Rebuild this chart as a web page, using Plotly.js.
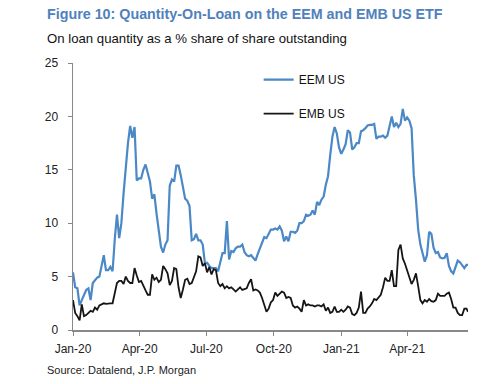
<!DOCTYPE html>
<html><head><meta charset="utf-8">
<script src="https://cdn.plot.ly/plotly-3.0.1.min.js"></script>
<style>html,body{margin:0;padding:0;background:#fff;}#chart{width:500px;height:384px;}</style>
</head><body><div id="chart"></div>
<script>
const dates = [
"2020-01-01","2020-01-04","2020-01-07","2020-01-10","2020-01-13","2020-01-16","2020-01-19","2020-01-22","2020-01-25","2020-01-28",
"2020-01-31","2020-02-03","2020-02-06","2020-02-09","2020-02-12","2020-02-15","2020-02-18","2020-02-21","2020-02-24","2020-02-27",
"2020-03-01","2020-03-04","2020-03-07","2020-03-10","2020-03-13","2020-03-16","2020-03-19","2020-03-22","2020-03-25","2020-03-28",
"2020-03-31","2020-04-03","2020-04-06","2020-04-09","2020-04-12","2020-04-15","2020-04-18","2020-04-21","2020-04-24","2020-04-27",
"2020-04-30","2020-05-03","2020-05-06","2020-05-09","2020-05-12","2020-05-15","2020-05-18","2020-05-21","2020-05-24","2020-05-27",
"2020-05-30","2020-06-02","2020-06-05","2020-06-08","2020-06-11","2020-06-14","2020-06-17","2020-06-20","2020-06-23","2020-06-26",
"2020-06-29","2020-07-02","2020-07-05","2020-07-08","2020-07-11","2020-07-14","2020-07-17","2020-07-20","2020-07-23","2020-07-26",
"2020-07-29","2020-08-01","2020-08-04","2020-08-07","2020-08-10","2020-08-13","2020-08-16","2020-08-19","2020-08-22","2020-08-25",
"2020-08-28","2020-08-31","2020-09-03","2020-09-06","2020-09-09","2020-09-12","2020-09-15","2020-09-18","2020-09-21","2020-09-24",
"2020-09-27","2020-09-30","2020-10-03","2020-10-06","2020-10-09","2020-10-12","2020-10-15","2020-10-18","2020-10-21","2020-10-24",
"2020-10-27","2020-10-30","2020-11-02","2020-11-05","2020-11-08","2020-11-11","2020-11-14","2020-11-17","2020-11-20","2020-11-23",
"2020-11-26","2020-11-29","2020-12-02","2020-12-05","2020-12-08","2020-12-11","2020-12-14","2020-12-17","2020-12-20","2020-12-23",
"2020-12-26","2020-12-29","2021-01-01","2021-01-04","2021-01-07","2021-01-10","2021-01-13","2021-01-16","2021-01-19","2021-01-22",
"2021-01-25","2021-01-28","2021-01-31","2021-02-03","2021-02-06","2021-02-09","2021-02-12","2021-02-15","2021-02-18","2021-02-21",
"2021-02-24","2021-02-27","2021-03-02","2021-03-05","2021-03-08","2021-03-11","2021-03-14","2021-03-17","2021-03-20","2021-03-23",
"2021-03-26","2021-03-29","2021-04-01","2021-04-04","2021-04-07","2021-04-10","2021-04-13","2021-04-16","2021-04-19","2021-04-22",
"2021-04-25","2021-04-28","2021-05-01","2021-05-04","2021-05-07","2021-05-10","2021-05-13","2021-05-16","2021-05-19","2021-05-22",
"2021-05-25","2021-05-28","2021-05-31","2021-06-03","2021-06-06","2021-06-09","2021-06-12","2021-06-15","2021-06-18","2021-06-21",
"2021-06-23"
];
const eemUS = [
5.4,4.0,3.9,2.3,2.8,3.2,3.75,3.9,2.8,4.4,
4.7,4.9,5.0,6.0,7.0,5.6,5.6,5.9,5.5,8.5,
10.8,8.6,10.0,12.8,15.4,17.5,19.1,18.0,19.0,14.0,
14.2,14.2,15.0,15.5,14.7,13.9,12.3,12.7,10.9,9.2,
7.8,7.25,8.0,8.4,13.5,14.1,13.9,15.4,15.4,14.5,
13.3,12.3,12.1,11.6,8.4,8.5,9.0,8.4,8.4,8.0,
6.25,6.3,6.0,5.8,5.8,5.8,5.5,6.5,7.2,7.2,
10.2,6.6,7.4,7.3,7.65,7.8,7.8,8.0,7.3,7.0,
6.9,7.0,6.7,6.5,7.1,7.6,8.2,8.7,8.6,9.0,
9.4,9.4,9.5,9.4,9.7,9.3,8.3,8.75,8.3,9.2,
9.2,9.1,9.3,10.0,10.0,10.2,10.8,10.7,10.8,11.2,
10.8,12.0,11.7,12.2,12.5,13.6,14.4,16.4,18.1,19.0,
18.4,17.1,16.5,16.9,17.4,18.7,18.5,16.9,17.1,17.5,
17.5,18.6,18.7,18.9,19.15,19.2,19.2,19.3,17.9,18.1,
18.1,18.2,18.0,18.2,19.0,20.0,19.0,19.4,19.0,19.3,
20.7,19.6,19.9,19.6,18.9,14.5,12.2,9.4,8.0,7.1,
6.4,7.0,9.2,9.0,7.7,7.2,7.3,6.8,6.7,6.75,
7.2,6.0,5.5,5.3,5.9,6.5,6.35,6.1,5.8,6.1,
6.1
];
const embUS = [
2.8,1.6,1.3,0.9,2.4,1.3,1.4,1.6,1.8,1.7,
2.1,1.9,2.3,2.4,2.5,2.45,2.5,2.5,2.5,3.4,
4.4,4.6,4.6,4.3,5.0,4.6,4.4,4.4,5.8,5.1,
4.5,4.6,4.1,3.7,3.3,3.3,5.2,4.7,4.9,4.5,
4.7,6.0,5.7,5.3,4.2,4.6,5.8,5.7,4.0,3.0,
3.8,4.7,4.8,4.3,4.4,5.0,5.5,6.9,6.8,6.0,
6.25,5.4,5.9,5.2,5.7,5.6,4.4,4.1,4.3,3.9,
4.1,3.9,4.0,3.8,3.6,3.8,4.0,3.75,3.8,3.9,
4.4,4.75,3.7,3.8,3.7,3.5,3.0,2.3,1.7,2.0,
2.6,2.8,3.5,3.2,3.4,3.6,3.5,3.0,3.1,3.0,
2.3,2.1,2.2,2.0,1.7,2.8,2.3,2.4,2.3,2.3,
2.2,2.3,2.3,2.2,2.4,1.8,2.1,1.6,1.7,2.2,
1.7,1.7,1.9,1.7,1.9,2.2,2.1,1.5,1.4,1.6,
2.1,3.6,1.6,1.6,2.0,2.2,2.5,2.9,2.8,3.05,
3.3,4.0,4.9,4.6,4.6,5.6,4.1,4.1,7.5,8.0,
6.7,6.2,5.5,4.8,4.3,4.7,5.3,4.1,2.8,2.5,
2.8,2.65,2.9,2.7,2.65,2.8,3.4,3.2,3.2,3.2,
3.4,3.5,2.9,2.1,2.1,1.6,1.4,1.4,2.0,2.0,
1.7
];
const seriesNames = ["EEM US", "EMB US"];
const titleText = "Figure 10: Quantity-On-Loan on the EEM and EMB US ETF";
const subtitleText = "On loan quantity as a % share of share outstanding";
const sourceText = "Source: Datalend, J.P. Morgan";

const FONT = "Liberation Sans, Arial, sans-serif";
const traces = [
  {x: dates, y: eemUS, name: seriesNames[0], type: "scatter", mode: "lines",
   line: {color: "#4a88c6", width: 2.2}, legendgroup: "a"},
  {x: dates, y: embUS, name: seriesNames[1], type: "scatter", mode: "lines",
   line: {color: "#151515", width: 1.8}, legendgroup: "b"}
];
const layout = {
  width: 500, height: 384,
  margin: {l: 73, r: 32, t: 63, b: 54},
  paper_bgcolor: "#fff", plot_bgcolor: "#fff",
  font: {family: FONT, size: 12, color: "#222"},
  showlegend: true,
  legend: {x: 0.47, y: 0.992, xanchor: "left", yanchor: "top", bgcolor: "rgba(0,0,0,0)",
           font: {family: FONT, size: 12, color: "#111"}, tracegroupgap: 15, traceorder: "grouped"},
  xaxis: {type: "date", range: ["2020-01-01", "2021-06-23"], tickformat: "%b-%y",
          dtick: "M3", tick0: "2020-01-01", ticks: "outside", ticklen: 4, tickcolor: "#888",
          showline: true, linecolor: "#888", linewidth: 1.5, showgrid: false, zeroline: false,
          ticklabelstandoff: 3,
          tickfont: {family: FONT, size: 12, color: "#222"}},
  yaxis: {range: [0, 25], dtick: 5, ticks: "outside", ticklen: 4, tickcolor: "#888",
          showline: true, linecolor: "#888", linewidth: 1.5, showgrid: false, zeroline: false,
          ticklabelstandoff: 7,
          tickfont: {family: FONT, size: 12, color: "#222"}},
  annotations: [
    {text: "<b>" + titleText + "</b>", xref: "paper", yref: "paper", x: -0.072, y: 1.182,
     xanchor: "left", yanchor: "middle", showarrow: false,
     font: {family: FONT, size: 14.3, color: "#4f81bd"}},
    {text: subtitleText, xref: "paper", yref: "paper", x: -0.072, y: 1.09,
     xanchor: "left", yanchor: "middle", showarrow: false,
     font: {family: FONT, size: 13.2, color: "#111"}},
    {text: sourceText, xref: "paper", yref: "paper", x: -0.072, y: -0.15,
     xanchor: "left", yanchor: "middle", showarrow: false,
     font: {family: FONT, size: 11, color: "#222"}}
  ]
};
Plotly.newPlot("chart", traces, layout, {displayModeBar: false, staticPlot: true});
</script></body></html>
